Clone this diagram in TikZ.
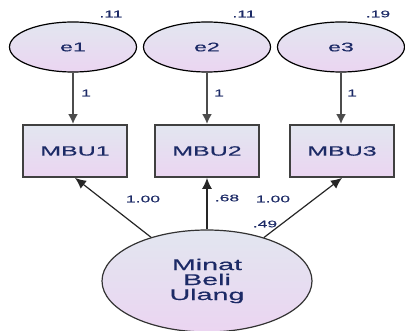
\documentclass[tikz,border=0pt]{standalone}
\usepackage{fontspec}
\setmainfont{Liberation Sans}
\newfontfamily\amosfont[FakeStretch=1.85,FakeBold=0.4]{Liberation Sans}
\usetikzlibrary{shapes.geometric,arrows.meta,positioning}
\definecolor{amostxt}{HTML}{1C2A66}
\definecolor{filltop}{HTML}{E2E6F0}
\definecolor{fillbot}{HTML}{EBD5F1}
\tikzset{
  errvar/.style={ellipse,draw,line width=1.2pt,minimum width=127pt,minimum height=50pt,top color=filltop,bottom color=fillbot,text=amostxt,font=\amosfont\fontsize{12.5}{13}\selectfont},
  obsvar/.style={rectangle,draw=black!75,line width=1.8pt,minimum width=104pt,minimum height=52pt,top color=filltop,bottom color=fillbot,text=amostxt,font=\amosfont\fontsize{13.5}{14}\selectfont},
  latvar/.style={ellipse,draw=black!80,line width=1.2pt,minimum width=210pt,minimum height=102pt,top color=filltop,bottom color=fillbot,text=amostxt,align=center,font=\amosfont\fontsize{15.5}{15}\selectfont},
  est/.style={text=amostxt,inner sep=0pt,font=\amosfont\fontsize{9.5}{10}\selectfont},
  errarrow/.style={-{Latex[length=10pt,width=10pt]},line width=2pt,draw=black!70},
  ldarrow/.style={-{Latex[length=11pt,width=10pt]},line width=1.2pt,draw=black!85}
}
\begin{document}
\begin{tikzpicture}[x=1pt,y=-1pt]
    \useasboundingbox (0,0) rectangle (405,331);
    \node[errvar] (e1) at (73,47) {e1};
    \node[errvar] (e2) at (207,47) {e2};
    \node[errvar] (e3) at (341,47) {e3};
    \node[est] (v1) at (111,14) {.11};
    \node[est] (v2) at (244,14) {.11};
    \node[est] (v3) at (378,14) {.19};

    \node[obsvar] (mbu1) at (75,151) {MBU1};
    \node[obsvar] (mbu2) at (207,151) {MBU2};
    \node[obsvar] (mbu3) at (342,151) {MBU3};

    \node[latvar] (mbu) at (207,281) {Minat\\Beli\\Ulang};
    \node[est] (v4) at (265,224) {.49};

    \draw[errarrow] (e1) -- (mbu1.north -| e1) ;
    \draw[errarrow] (e2) -- (mbu2.north -| e2) ;
    \draw[errarrow] (e3) -- (mbu3.north -| e3) ;
    \node[est] (w1) at (86,93) {1};
    \node[est] (w2) at (219,93) {1};
    \node[est] (w3) at (352,93) {1};

    \draw[ldarrow] (mbu) -- (mbu1.south) ;
    \draw[ldarrow] (mbu) -- (mbu2.south) ;
    \draw[ldarrow] (mbu) -- (mbu3.south) ;
    \node[est] (l1) at (143,199) {1.00};
    \node[est] (l2) at (227,198) {.68};
    \node[est] (l3) at (273,199) {1.00};
\end{tikzpicture}
\end{document}
